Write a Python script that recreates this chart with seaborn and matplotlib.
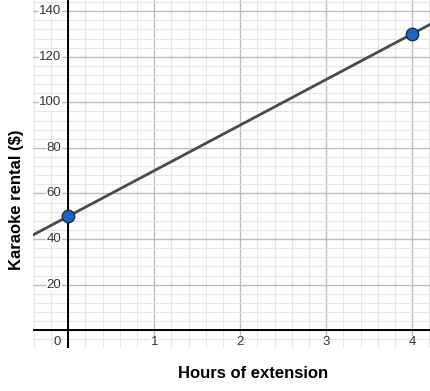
import matplotlib
matplotlib.use("Agg")
import matplotlib.pyplot as plt
import matplotlib.transforms as mtransforms
import seaborn as sns
import pandas as pd
import numpy as np

# data
hours = [0, 4]
rental = [50, 130]
x_ticks = [1, 2, 3, 4]
y_ticks = [20, 40, 60, 80, 100, 120, 140]
x_label = "Hours of extension"
y_label = "Karaoke rental ($)"

sns.set_theme(style="white")
plt.rcParams['font.family'] = ['Liberation Sans', 'DejaVu Sans']

fig = plt.figure(figsize=(4.31, 3.91), dpi=100)
ax = fig.add_axes([33/431, 43/391, 1 - 33/431, 1 - 43/391])

xmin, xmax = -0.41, 4.22
ymin, ymax = -7.8, 144.9
ax.set_xlim(xmin, xmax)
ax.set_ylim(ymin, ymax)

# grid
ax.set_xticks(np.arange(-0.4, 4.21, 0.2), minor=True)
ax.set_yticks(np.arange(-4, 145, 4), minor=True)
ax.set_xticks(range(0, 5))
ax.set_yticks(range(0, 141, 20))
ax.grid(which="minor", color="#e6e6e6", lw=0.8)
ax.grid(which="major", color="#bdbdbd", lw=1.0)
ax.tick_params(which="both", length=0, labelbottom=False, labelleft=False)
for s in ax.spines.values():
    s.set_visible(False)

ax.axhline(0, color="black", lw=1.4, zorder=2)
ax.axvline(0, color="black", lw=1.4, zorder=2)

df = pd.DataFrame({"hours": hours, "rental": rental})
ax.axline((hours[0], rental[0]), (hours[1], rental[1]), color="#4a4a4a", lw=2.0, zorder=3)
sns.scatterplot(data=df, x="hours", y="rental", ax=ax, s=80, color="#1a66c2",
                edgecolor="#1b2a4a", linewidth=1.0, zorder=4, legend=False)
ax.set_xlabel("")
ax.set_ylabel("")

# tick labels near the axes
offy = mtransforms.offset_copy(ax.transData, fig=fig, x=-7, y=0, units="dots")
for v in y_ticks:
    ax.text(0, v, str(v), transform=offy, ha="right", va="center", fontsize=9.5,
            color="#333333", bbox=dict(facecolor="white", edgecolor="none", pad=0.3), zorder=5)
offx = mtransforms.offset_copy(ax.transData, fig=fig, x=0, y=-12, units="dots")
for v in x_ticks:
    ax.text(v, 0, str(v), transform=offx, ha="center", va="center", fontsize=9.5,
            color="#333333", bbox=dict(facecolor="white", edgecolor="none", pad=0.3), zorder=5)
off0 = mtransforms.offset_copy(ax.transData, fig=fig, x=-11, y=-12, units="dots")
ax.text(0, 0, "0", transform=off0, ha="center", va="center", fontsize=9.5,
        color="#333333", bbox=dict(facecolor="white", edgecolor="none", pad=0.3), zorder=5)

fig.text(253/431, 1 - 373/391, x_label, ha="center", va="center", fontsize=12,
         fontweight="bold", color="black")
fig.text(17/431, 1 - 200/391, y_label, ha="center", va="center", fontsize=12,
         fontweight="bold", rotation=90, color="black")

fig.savefig("out.png", dpi=100)
